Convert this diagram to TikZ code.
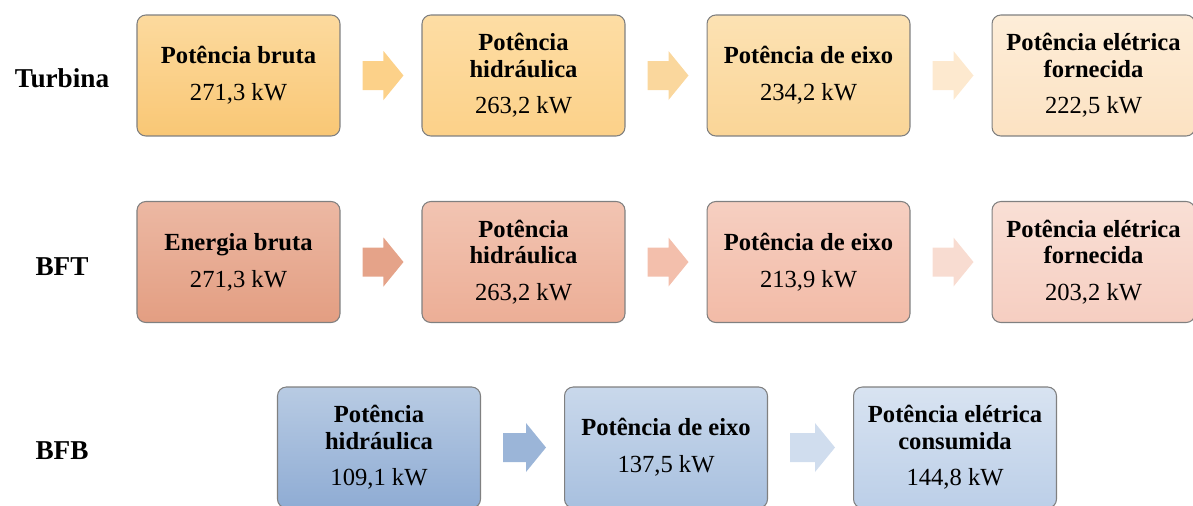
\documentclass[tikz,border=0pt]{standalone}
\usepackage{fontspec}
\setmainfont{Liberation Serif}
\usepackage{tikz}
\usetikzlibrary{calc}

\definecolor{ta}{HTML}{FCDA9E}\definecolor{tA}{HTML}{F9C775}
\definecolor{tb}{HTML}{FDDDA4}\definecolor{tB}{HTML}{FCD189}
\definecolor{tc}{HTML}{FCE2B3}\definecolor{tC}{HTML}{FAD597}
\definecolor{td}{HTML}{FDEDD8}\definecolor{tD}{HTML}{FCE2C2}
\definecolor{ba}{HTML}{ECB8A3}\definecolor{bA}{HTML}{E39E82}
\definecolor{bb}{HTML}{F2C4B2}\definecolor{bB}{HTML}{ECAE96}
\definecolor{bc}{HTML}{F6CFC1}\definecolor{bC}{HTML}{F2BBA7}
\definecolor{bd}{HTML}{F9DFD5}\definecolor{bD}{HTML}{F6CEC1}
\definecolor{fa}{HTML}{B8CBE3}\definecolor{fA}{HTML}{8FACD4}
\definecolor{fb}{HTML}{C9D8EB}\definecolor{fB}{HTML}{A8C0DF}
\definecolor{fc}{HTML}{D8E3F1}\definecolor{fC}{HTML}{BCCFE8}

\newcommand{\blockarrow}[3]{%
  \fill[#3] ($(#1.east)+(22,-14.5)$) -- ($(#2.west)+(-38,-14.5)$)
    -- ($(#2.west)+(-38,-24.5)$) -- ($(#2.west)+(-18,0)$)
    -- ($(#2.west)+(-38,24.5)$) -- ($(#2.west)+(-38,14.5)$)
    -- ($(#1.east)+(22,14.5)$) -- cycle;}

\begin{document}
\begin{tikzpicture}[x=0.02cm, y=-0.02cm,
  box/.style={draw=black!50, line width=0.6pt, rounded corners=5pt,
    minimum width=4.06cm, minimum height=2.42cm, align=center,
    font=\fontsize{14}{15}\selectfont},
  rowlabel/.style={font=\fontsize{15.5}{17}\selectfont\bfseries}]

\clip (0,0) rectangle (1193,505);

% Turbina
\node[rowlabel] (turbina) at (62,78) {Turbina};
\node[box, top color=ta, bottom color=tA] (t1) at (238.5,75.5) {\textbf{Potência bruta}\\[6pt]271,3 kW};
\node[box, top color=tb, bottom color=tB] (t2) at (523.5,75.5) {\textbf{Potência}\\\textbf{hidráulica}\\[6pt]263,2 kW};
\node[box, top color=tc, bottom color=tC] (t3) at (808.5,75.5) {\textbf{Potência de eixo}\\[6pt]234,2 kW};
\node[box, top color=td, bottom color=tD] (t4) at (1093.5,75.5) {\textbf{Potência elétrica}\\\textbf{fornecida}\\[6pt]222,5 kW};

\blockarrow{t1}{t2}{tB}
\blockarrow{t2}{t3}{tC!80!tc}
\blockarrow{t3}{t4}{td!60!tD}

% BFT
\node[rowlabel] (bft) at (62,267) {BFT};
\node[box, top color=ba, bottom color=bA] (b1) at (238.5,262) {\textbf{Energia bruta}\\[6pt]271,3 kW};
\node[box, top color=bb, bottom color=bB] (b2) at (523.5,262) {\textbf{Potência}\\\textbf{hidráulica}\\[6pt]263,2 kW};
\node[box, top color=bc, bottom color=bC] (b3) at (808.5,262) {\textbf{Potência de eixo}\\[6pt]213,9 kW};
\node[box, top color=bd, bottom color=bD] (b4) at (1093.5,262) {\textbf{Potência elétrica}\\\textbf{fornecida}\\[6pt]203,2 kW};

\blockarrow{b1}{b2}{bA!80!ba}
\blockarrow{b2}{b3}{bC!80!bc}
\blockarrow{b3}{b4}{bd!80!bD}

% BFB
\node[rowlabel] (bfb) at (62,451) {BFB};
\node[box, top color=fa, bottom color=fA] (f1) at (379,447.5) {\textbf{Potência}\\\textbf{hidráulica}\\[6pt]109,1 kW};
\node[box, top color=fb, bottom color=fB] (f2) at (666,447.5) {\textbf{Potência de eixo}\\[6pt]137,5 kW};
\node[box, top color=fc, bottom color=fC] (f3) at (955,447.5) {\textbf{Potência elétrica}\\\textbf{consumida}\\[6pt]144,8 kW};

\blockarrow{f1}{f2}{fA!70!fa}
\blockarrow{f2}{f3}{fc!70!fC}

\end{tikzpicture}
\end{document}
